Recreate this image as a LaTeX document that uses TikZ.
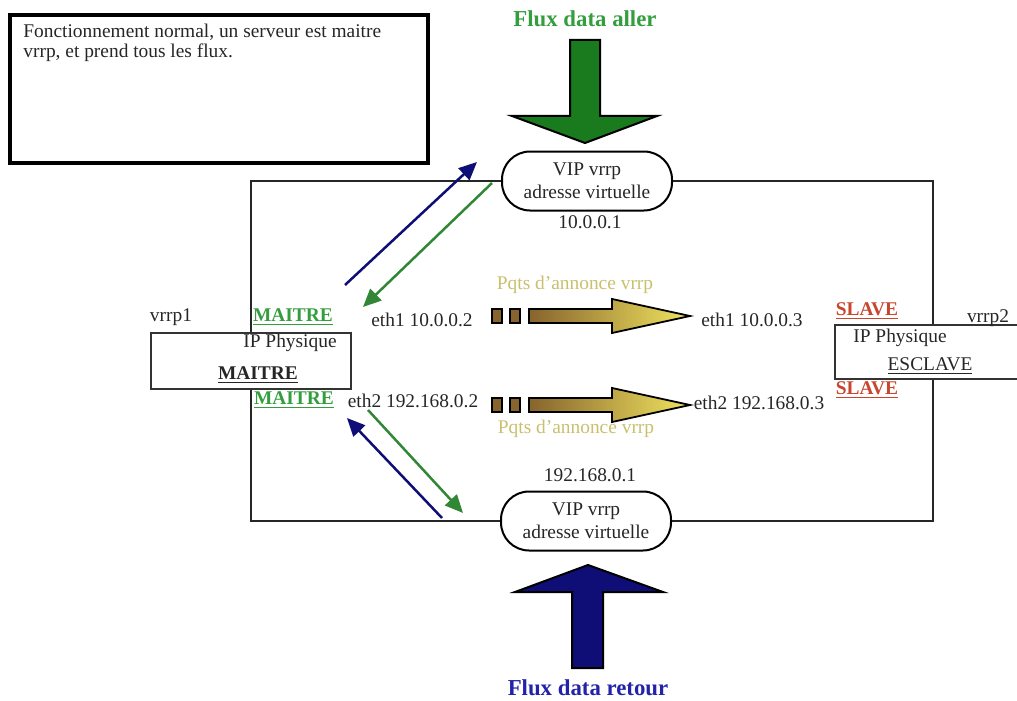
\documentclass[tikz,border=0pt]{standalone}
\usepackage{fontspec}
\setmainfont{Liberation Serif}
\usetikzlibrary{positioning, arrows.meta, calc}

\definecolor{maitregreen}{RGB}{52,158,62}
\definecolor{allergreen}{RGB}{26,122,30}
\definecolor{slavered}{RGB}{200,70,45}
\definecolor{retourblue}{RGB}{14,14,118}
\definecolor{retourtext}{RGB}{35,35,170}
\definecolor{pqtsyellow}{RGB}{200,192,110}
\definecolor{annbrown}{RGB}{135,100,45}
\definecolor{annyellow}{RGB}{240,228,95}

\begin{document}
\begin{tikzpicture}[
                x=0.5pt, y=-0.5pt,
                >={Triangle[length=9pt, width=8pt]},
                txt/.style={font=\fontsize{9.7}{10}\selectfont, text=black!85, inner sep=0pt},
                role/.style={txt, font=\fontsize{9.7}{10}\selectfont\bfseries},
                title/.style={txt, font=\fontsize{11.4}{13}\selectfont\bfseries},
                vip/.style={draw, line width=1pt, rounded corners=14pt, minimum width=85pt, minimum height=29.5pt, align=center, text=black!85, font=\fontsize{9.7}{11.5}\selectfont},
                phys/.style={draw=black!80, line width=0.6pt},
                link/.style={black!85, line width=0.6pt},
                flow/.style={line width=1.25pt},
                bigarrow/.style={draw=black, line width=1pt, line join=miter},
                annonce/.style={draw=black, line width=0.9pt, left color=annbrown, right color=annyellow},
            ]
                \useasboundingbox (0,0) rectangle (1017,701);

                % Draw the note in the top left corner
                \node[draw, line width=1.7pt, minimum width=209pt, minimum height=74pt] (note) at (219,89) {};
                \node[txt, anchor=north west, align=left] (notetext) at (23,24)
                    {Fonctionnement normal, un serveur est maitre\\vrrp, et prend tous les flux.};

                % Draw the big data flow arrows
                \draw[bigarrow, fill=allergreen] (570,40) -- (600,40) -- (600,116) -- (657,116)
                    -- (585,143) -- (512,116) -- (570,116) -- cycle;
                \node[title, text=maitregreen] (aller) at (585,19) {Flux data aller};
                \draw[bigarrow, fill=retourblue] (572,668) -- (603,668) -- (603,592) -- (663,592)
                    -- (588,565) -- (515,592) -- (572,592) -- cycle;
                \node[title, text=retourtext] (retour) at (588,688) {Flux data retour};

                % Draw the virtual addresses
                \node[vip] (vipA) at (587,181) {VIP vrrp\\adresse virtuelle};
                \node[txt] (ipvA) at (590,222) {10.0.0.1};
                \node[vip] (vipB) at (586,521) {VIP vrrp\\adresse virtuelle};
                \node[txt] (ipvB) at (590,475) {192.168.0.1};

                % Draw the two servers
                \node[phys, minimum width=100pt, minimum height=28pt] (vrrpA) at (251,361) {};
                \node[txt] (physA) at (290,343) {IP Physique};
                \node[role] (roleA) at (258,375) {\underline{MAITRE}};
                \node[txt] (nameA) at (171,317) {vrrp1};
                \node[phys, minimum width=98pt, minimum height=27pt] (vrrpB) at (933,352) {};
                \node[txt] (physB) at (900,338) {IP Physique};
                \node[txt] (roleB) at (930,366) {\underline{ESCLAVE}};
                \node[txt] (nameB) at (988,318) {vrrp2};

                % Connect the virtual addresses to the servers
                \draw[link] (vipA.west) -| (vrrpA.north);
                \draw[link] (vipB.west) -| (vrrpA.south);
                \draw[link] (vipA.east) -| (vrrpB.north);
                \draw[link] (vipB.east) -| (vrrpB.south);

                % Interface labels and states
                \node[txt] (ethA1) at (422,320) {eth1 10.0.0.2};
                \node[txt] (ethA2) at (413,401) {eth2 192.168.0.2};
                \node[txt] (ethB1) at (752,320) {eth1 10.0.0.3};
                \node[txt] (ethB2) at (759,403) {eth2 192.168.0.3};
                \foreach \name / \x / \y in {1/293/317, 2/294/400}
                    \node[role, text=maitregreen] (maitre-\name) at (\x,\y) {\underline{MAITRE}};
                \foreach \name / \x / \y in {1/867/311, 2/867/390}
                    \node[role, text=slavered] (slave-\name) at (\x,\y) {\underline{SLAVE}};

                % Draw the vrrp announce arrows
                \foreach \name / \y in {1/316, 2/405} {
                    \draw[draw=black, line width=0.9pt, fill=annbrown] (492,\y-7) rectangle (502,\y+7);
                    \draw[draw=black, line width=0.9pt, fill=annbrown] (510,\y-7) rectangle (520,\y+7);
                    \draw[annonce] (529,\y-7) -- (612,\y-7) -- (612,\y-17) -- (690,\y)
                        -- (612,\y+17) -- (612,\y+7) -- (529,\y+7) -- cycle;
                }
                \node[txt, text=pqtsyellow] (pqts-1) at (575,285) {Pqts d'annonce vrrp};
                \node[txt, text=pqtsyellow] (pqts-2) at (576,429) {Pqts d'annonce vrrp};

                % Data flows between the virtual addresses and vrrp1
                \coordinate (blue-1-tail) at (345,285);
                \coordinate (blue-1-head) at (477,162);
                \coordinate (green-1-tail) at (492,183);
                \coordinate (green-1-head) at (363,307);
                \coordinate (blue-2-tail) at (442,518);
                \coordinate (blue-2-head) at (347,418);
                \coordinate (green-2-tail) at (368,410);
                \coordinate (green-2-head) at (463,513);
                \foreach \name in {1,2} {
                    \draw[flow, ->, retourblue] (blue-\name-tail) -- (blue-\name-head);
                    \draw[flow, ->, allergreen!90!white] (green-\name-tail) -- (green-\name-head);
                }
            \end{tikzpicture}
\end{document}
